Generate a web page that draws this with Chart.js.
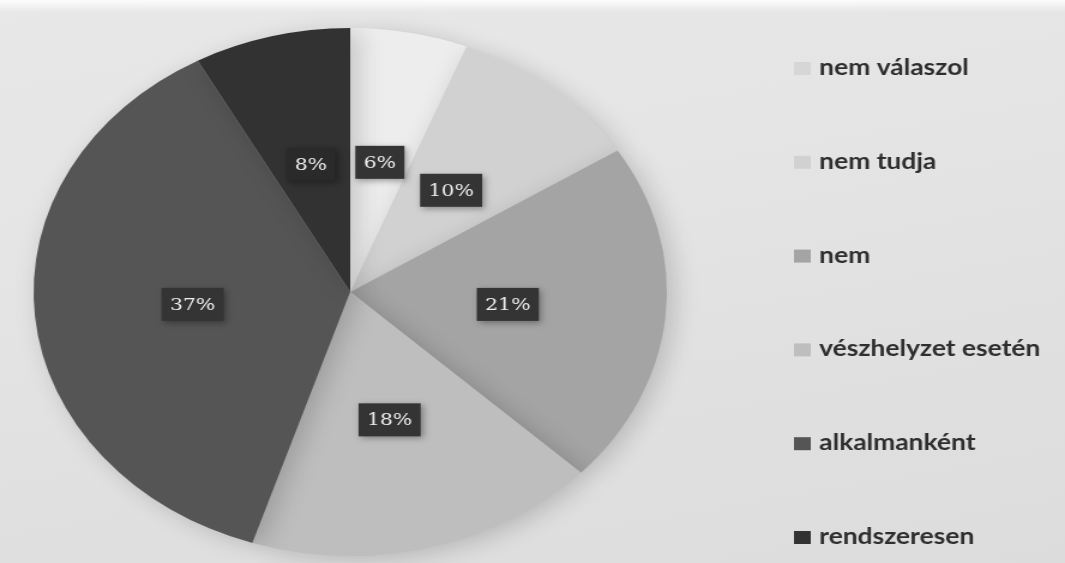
<!DOCTYPE html>
<html>
<head>
<meta charset="utf-8">
<script src="https://cdn.jsdelivr.net/npm/chart.js@4.4.1/dist/chart.umd.min.js"></script>
<style>
  html, body { margin: 0; padding: 0; }
  body {
    width: 1065px; height: 563px; overflow: hidden;
    background:
      linear-gradient(180deg, rgba(255,255,255,0.9) 0px, rgba(255,255,255,0) 12px),
      linear-gradient(170deg, #e8e8e8 0%, #e4e4e4 40%, #dcdcdc 100%);
  }
  #pie { display: block; width: 1065px !important; height: 563px !important; }
</style>
</head>
<body>
<canvas id="pie" width="888" height="563" style="width:1065px;height:563px"></canvas>
<script>
// answer categories, clockwise from the top
const labels = ["nem válaszol", "nem tudja", "nem", "vészhelyzet esetén", "alkalmanként", "rendszeresen"];
const shares = [6, 10, 21, 18, 37, 8];
const colors = ["#ededed", "#d1d1d1", "#a4a4a4", "#bebebe", "#555555", "#323232"];

// soft halo behind the pie
const pieShadow = {
    id: "pieShadow",
    beforeDatasetsDraw(chart) {
        const ctx = chart.ctx;
        ctx.save();
        ctx.shadowColor = "rgba(0,0,0,0.18)";
        ctx.shadowBlur = 22;
        ctx.shadowOffsetX = 6;
        ctx.shadowOffsetY = 4;
    },
    afterDatasetsDraw(chart) { chart.ctx.restore(); }
};

// dark boxes with the percentage at the middle of each slice
const sliceLabels = {
    id: "sliceLabels",
    afterDatasetsDraw(chart) {
        const ctx = chart.ctx;
        const meta = chart.getDatasetMeta(0);
        ctx.save();
        ctx.font = "17px 'DejaVu Serif', serif";
        ctx.textAlign = "center";
        ctx.textBaseline = "middle";
        meta.data.forEach((arc, i) => {
            const p = arc.tooltipPosition();
            const txt = shares[i] + "%";
            const w = ctx.measureText(txt).width + 14;
            const h = 33;
            ctx.save();
            ctx.shadowColor = "rgba(0,0,0,0.35)";
            ctx.shadowBlur = 6;
            ctx.shadowOffsetX = 2;
            ctx.shadowOffsetY = 2;
            ctx.fillStyle = i === 5 ? "#2a2a2a" : "#343434";
            ctx.fillRect(p.x - w / 2, p.y - h / 2, w, h);
            ctx.restore();
            ctx.fillStyle = "#efefef";
            ctx.fillText(txt, p.x, p.y + 1);
        });
        ctx.restore();
    }
};

// legend column on the right
const sideLegend = {
    id: "sideLegend",
    afterDraw(chart) {
        const ctx = chart.ctx;
        const x0 = 662, y0 = 68, step = 93.8;
        ctx.save();
        ctx.font = "bold 22px Lato, sans-serif";
        ctx.textBaseline = "middle";
        chart.data.labels.forEach((lab, i) => {
            const y = y0 + i * step;
            ctx.fillStyle = i === 0 ? "#d6d6d6" : colors[i];
            ctx.fillRect(x0, y - 6, 14, 13);
            ctx.fillStyle = "#2e2e2e";
            ctx.fillText(lab, x0 + 21, y);
        });
        ctx.restore();
    }
};

new Chart(document.getElementById("pie"), {
    type: "pie",
    data: {
        labels: labels,
        datasets: [{
            data: shares,
            backgroundColor: colors,
            borderWidth: 0
        }]
    },
    options: {
        responsive: false,
        animation: false,
        devicePixelRatio: 1,
        layout: { padding: { left: 28, top: 28, right: 332, bottom: 7 } },
        plugins: {
            legend: { display: false },
            tooltip: { enabled: false }
        }
    },
    plugins: [pieShadow, sliceLabels, sideLegend]
});
</script>
</body>
</html>
